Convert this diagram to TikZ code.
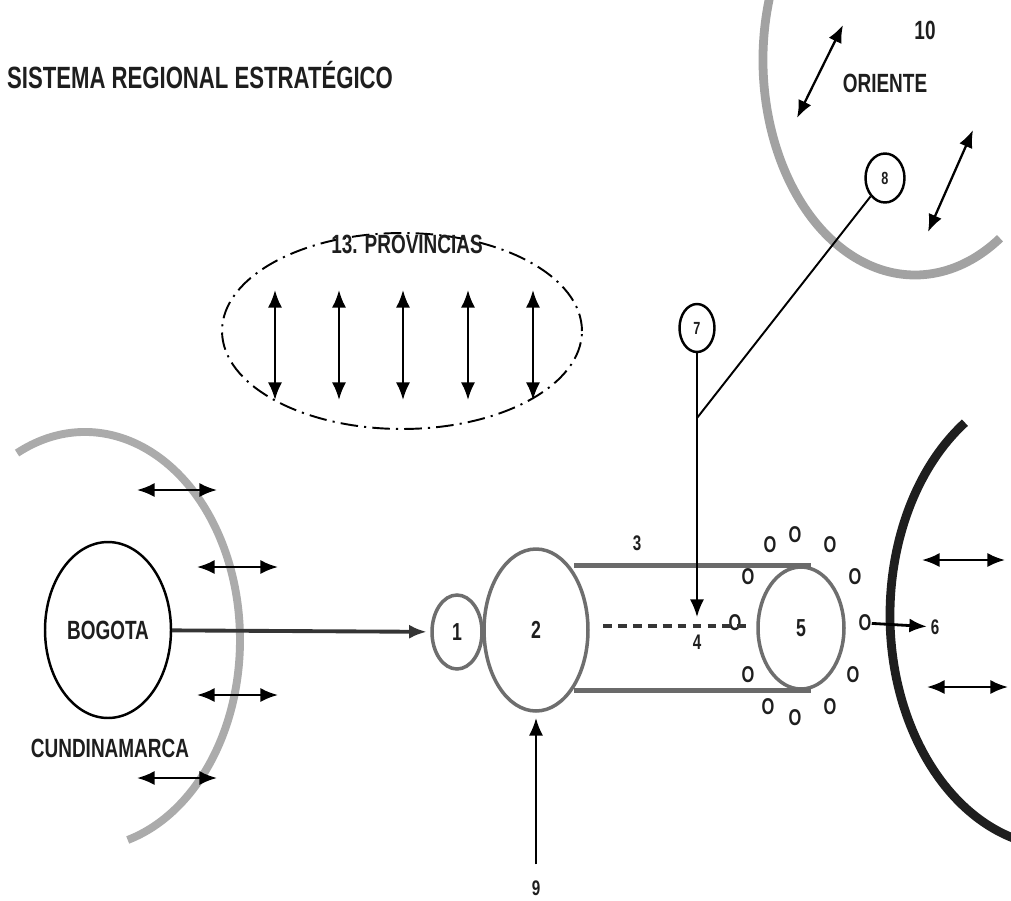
\documentclass[tikz,border=0pt]{standalone}
\usepackage{fontspec}
\newfontfamily\narrowsf{Liberation Sans}[FakeStretch=0.72]
\usetikzlibrary{shapes.geometric,arrows.meta}
\definecolor{ringgray}{HTML}{6E6E6E}
\definecolor{tubegray}{HTML}{6A6A6A}
\definecolor{arcgray}{HTML}{ABABAB}
\definecolor{darkline}{HTML}{353535}
\definecolor{textblack}{HTML}{1E1E1E}
\begin{document}
\begin{tikzpicture}[x=0.02cm,y=0.02cm,
    oneway/.style={-{Latex[length=10pt,width=8pt]},line width=1.1pt},
    twoway/.style={{Latex[length=10pt,width=8pt]}-{Latex[length=10pt,width=8pt]},line width=1.3pt},
    lbl/.style={font=\narrowsf\bfseries\fontsize{#1}{#1}\selectfont,text=textblack,inner sep=0pt},
    ring/.style={ellipse,draw=ringgray,line width=2pt,inner sep=0pt},
    bubble/.style={ellipse,draw,line width=1.4pt,inner sep=0pt,lbl=10pt},
    tube/.style={draw=tubegray,line width=2.6pt}]
        \useasboundingbox (0,0) rectangle (1011,-900);
        \clip (0,0) rectangle (1011,-900);
        % Draw the title
        \node[lbl=17.5pt] (title) at (200,-75) {SISTEMA REGIONAL ESTRATÉGICO};
        % Draw the region arcs
        \draw[arcgray,line width=4.5pt] (85,-640) ++(116:155 and 208) arc[start angle=116, end angle=-74, x radius=155, y radius=208];
        \draw[arcgray!95!black,line width=5pt] (915,-60) ++(160:152 and 215) arc[start angle=160, end angle=304, x radius=152, y radius=215];
        \draw[textblack,line width=5pt] (1060,-615) ++(124:170 and 232) arc[start angle=124, end angle=256, x radius=170, y radius=232];
        % Draw the oriente side
        \node[lbl=15pt] (ten) at (925,-30) {10};
        \node[lbl=15pt] (oriente) at (885,-83) {ORIENTE};
        \draw[twoway] (797,-118) -- (843,-25);
        \draw[twoway] (928,-232) -- (973,-130);
        % Draw the provinces
        \node[ellipse,draw,line width=1.1pt,dash pattern=on 10pt off 3.5pt on 1.2pt off 3.5pt,minimum width=7.2cm,minimum height=3.92cm] (provs) at (402,-331) {};
        \node[lbl=15pt] (provtitle) at (407,-244) {13. PROVINCIAS};
        \foreach \x in {275,339,403,468,533}
            \draw[twoway] (\x,-290) -- (\x,-400);
        % Draw bogota and cundinamarca
        \node[ellipse,draw,line width=1.4pt,minimum width=2.52cm,minimum height=3.52cm,lbl=15pt] (bogota) at (108,-630) {BOGOTA};
        \node[lbl=15pt] (cundi) at (110,-748) {CUNDINAMARCA};
        \foreach \y/\a/\b in {490/137/217, 567/197/278, 695/197/278, 778/137/217}
            \draw[twoway] (\a,-\y) -- (\b,-\y);
        % Draw the rings
        \node[ring,lbl=14pt,minimum width=1cm,minimum height=1.48cm] (c1) at (457,-632) {1};
        \node[ring,lbl=14pt,minimum width=2.08cm,minimum height=3.24cm] (c2) at (536,-630) {2};
        \node[ring,lbl=14pt,minimum width=1.72cm,minimum height=2.44cm] (c5) at (801,-628) {5};
        \draw[tube] (c2.north east |- c5.north) -- ([xshift=0.2cm]c5.north);
        \draw[tube] (c2.south east |- c5.south) -- ([xshift=0.2cm]c5.south);
        \node[lbl=12pt] (n3) at (637,-543) {3};
        \node[lbl=12pt] (n4) at (697,-642) {4};
        % Draw the small o marks
        \foreach \x/\y [count=\i] in {770/545, 795/535, 830/545, 748/577, 855/577, 735/623, 865/623, 748/675, 853/675, 768/707, 795/718, 830/707}
            \node[lbl=13pt] (o\i) at (\x,-\y) {O};
        % Draw the dashed link
        \coordinate (d0) at (603,-626);
        \coordinate (d1) at (750,-626);
        \draw[darkline,line width=2.6pt,dash pattern=on 5pt off 3.5pt] (d0) -- (d1);
        % Draw the links
        \draw[oneway,darkline,line width=2.2pt,shorten >=2pt] (bogota) -- (c1);
        \node[bubble,minimum width=0.7cm,minimum height=0.96cm] (c7) at (697,-328) {7};
        \node[bubble,minimum width=0.78cm,minimum height=0.98cm] (c8) at (885,-178) {8};
        \coordinate (p4) at (697,-617);
        \coordinate (j) at (697,-418);
        \draw[oneway] (c7) -- (p4);
        \draw[line width=1.1pt] (c8) -- (j);
        \node[lbl=12pt] (n9) at (536,-888) {9};
        \draw[oneway,shorten <=9pt,shorten >=3pt] (n9.north) -- (c2.south);
        \node[lbl=12pt] (n6) at (935,-627) {6};
        \draw[oneway,line width=1.6pt,shorten >=2pt] (o7) -- (n6);
        % Draw the right side
        \foreach \y/\a/\b in {560/922/1005, 687/927/1008}
            \draw[twoway] (\a,-\y) -- (\b,-\y);
    \end{tikzpicture}
\end{document}
